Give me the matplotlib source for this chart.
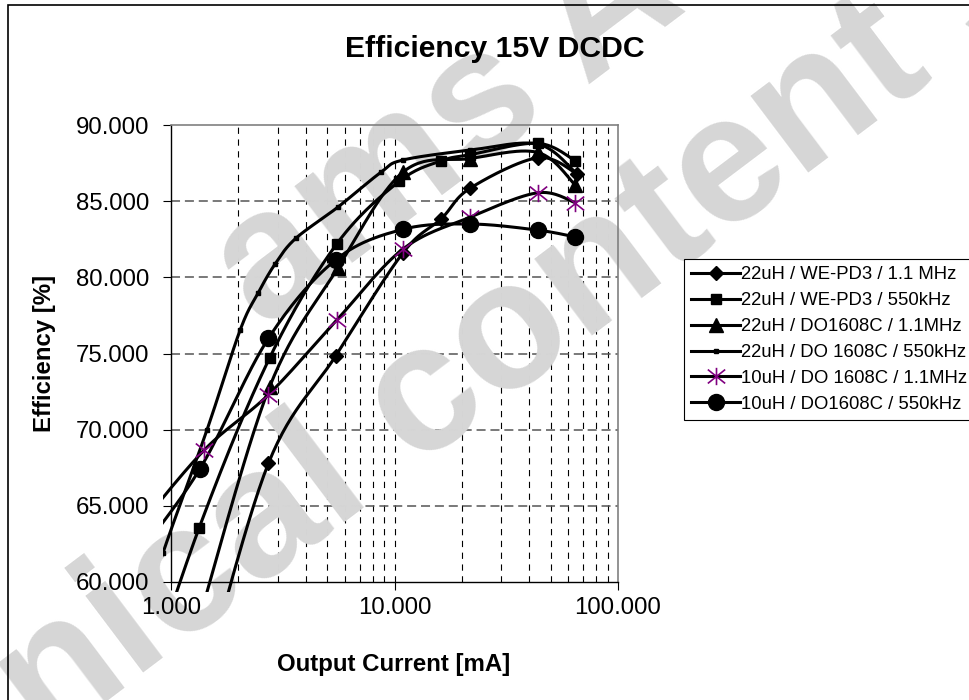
import numpy as np
import matplotlib
matplotlib.use("Agg")
import matplotlib.pyplot as plt
from matplotlib.path import Path
from matplotlib.patches import Rectangle
from matplotlib.lines import Line2D

plt.rcParams['font.family'] = ['Liberation Sans', 'DejaVu Sans']
plt.rcParams['lines.scale_dashes'] = False

# ---- data (output current mA, efficiency %) ----
labels = ["22uH / WE-PD3 / 1.1 MHz",
          "22uH / WE-PD3 / 550kHz",
          "22uH / DO1608C / 1.1MHz",
          "22uH / DO 1608C / 550kHz",
          "10uH / DO 1608C / 1.1MHz",
          "10uH / DO1608C / 550kHz"]

x_we_1m1 = [1.375, 2.73, 5.46, 10.9, 16.2, 21.8, 43.7, 65.5]
y_we_1m1 = [53.0, 67.8, 74.85, 81.6, 83.85, 85.85, 87.85, 86.8]

x_we_550 = [0.69, 1.336, 2.76, 5.52, 10.5, 16.2, 21.8, 43.7, 64.5]
y_we_550 = [51.0, 63.55, 74.7, 82.2, 86.3, 87.65, 88.05, 88.8, 87.65]

x_do_1m1 = [1.375, 2.76, 5.57, 10.9, 21.8, 43.7, 64.5]
y_do_1m1 = [58.2, 72.8, 80.6, 86.9, 87.8, 88.2, 86.05]

# tiny markers, so points were read along the curve
x_do_550 = [0.69, 0.92, 1.45, 2.04, 2.46, 2.93, 3.61, 5.57, 8.7, 10.9, 21.8, 43.7, 64.5]
y_do_550 = [56.0, 61.9, 70.0, 76.55, 79.0, 80.9, 82.55, 84.6, 86.9, 87.7, 88.35, 88.75, 86.9]

x_10u_1m1 = [0.69, 1.41, 2.73, 5.52, 10.9, 21.8, 43.7, 64.5]
y_10u_1m1 = [63.3, 68.67, 72.3, 77.2, 81.85, 83.95, 85.55, 84.9]

x_10u_550 = [0.69, 1.35, 2.73, 5.46, 10.9, 21.8, 43.7, 64.5]
y_10u_550 = [61.5, 67.45, 76.0, 81.15, 83.15, 83.5, 83.1, 82.65]

xs = [x_we_1m1, x_we_550, x_do_1m1, x_do_550, x_10u_1m1, x_10u_550]
ys = [y_we_1m1, y_we_550, y_do_1m1, y_do_550, y_10u_1m1, y_10u_550]

x_ticks = [1, 10, 100]
x_ticklabels = ["1.000", "10.000", "100.000"]
y_ticks = [60, 65, 70, 75, 80, 85, 90]

# asterisk marker like the spreadsheet one
star = Path([(0, -1), (0, 1), (-1, -0.8), (1, 0.8), (-1, 0.8), (1, -0.8)],
            [Path.MOVETO, Path.LINETO] * 3)

styles = [dict(marker='D', ms=7.5, mfc='k', mec='k'),
          dict(marker='s', ms=7, mfc='k', mec='k'),
          dict(marker='^', ms=10, mfc='k', mec='k'),
          dict(marker='s', ms=2.2, mfc='k', mec='k'),
          dict(marker=star, ms=12.5, mfc='none', mec='#800080', mew=1.2),
          dict(marker='o', ms=11.5, mfc='k', mec='k')]


def smooth(x, y, sx=222.5, sy=15.24, n=30):
    # bezier smoothing with catmull-rom control points, done in screen-like units
    pts = np.column_stack([np.log10(x) * sx, np.asarray(y) * sy])
    p = np.vstack([pts[0], pts, pts[-1]])
    t = np.linspace(0, 1, n)[1:, None]
    out = [pts[:1]]
    for i in range(1, len(p) - 2):
        p0, p1, p2, p3 = p[i - 1], p[i], p[i + 1], p[i + 2]
        c1 = p1 + (p2 - p0) / 6
        c2 = p2 - (p3 - p1) / 6
        out.append((1 - t) ** 3 * p1 + 3 * (1 - t) ** 2 * t * c1
                   + 3 * (1 - t) * t ** 2 * c2 + t ** 3 * p2)
    out = np.vstack(out)
    return 10 ** (out[:, 0] / sx), out[:, 1] / sy


fig = plt.figure(figsize=(9.69, 7.0), dpi=100)
ax = fig.add_axes([171 / 969, 1 - 582 / 700, 447 / 969, 457 / 700])
ax.set_xscale('log')
ax.set_xlim(1, 100)
ax.set_ylim(60, 90)

# grid drawn by hand so the watermark can sit between grid and curves
minor = [m * d for d in (1, 10) for m in range(2, 10)] + [10]
ax.vlines(minor, 60, 90, colors='k', lw=0.8, linestyles=[(0, (4.5, 4))], zorder=0.5)
ax.hlines(y_ticks[1:-1], 1, 100, colors='#555555', lw=1.1, linestyles=[(0, (6.5, 3.5))], zorder=0.5)

clip = Rectangle((-8 / 447, -10 / 457), 1 + 8 / 447, 1 + 10 / 457, transform=ax.transAxes)
for x, y, st in zip(xs, ys, styles):
    cx, cy = smooth(x, y)
    ln, = ax.plot(cx, cy, color='k', lw=2.2, zorder=3, solid_capstyle='round')
    mk, = ax.plot(x, y, ls='none', zorder=4, **st)
    ln.set_clip_path(clip)
    mk.set_clip_path(clip)

ax.set_xticks(x_ticks)
ax.set_xticklabels(x_ticklabels)
ax.xaxis.set_minor_locator(matplotlib.ticker.NullLocator())
ax.set_yticks(y_ticks)
ax.yaxis.set_major_formatter(matplotlib.ticker.FormatStrFormatter('%.3f'))
ax.tick_params(axis='both', direction='out', length=5.8, width=0.8, labelsize=17.3)
ax.tick_params(axis='x', pad=5)
ax.tick_params(axis='y', pad=10)
for s in ('left', 'bottom'):
    ax.spines[s].set_color('k')
    ax.spines[s].set_linewidth(1.0)
for s in ('top', 'right'):
    ax.spines[s].set_color('#808080')
    ax.spines[s].set_linewidth(1.2)

fig.text(495 / 969, 1 - 57 / 700, "Efficiency 15V DCDC", ha='center', va='baseline',
         fontsize=21.7, fontweight='bold')
fig.text(394 / 969, 1 - 664 / 700, "Output Current [mA]", ha='center', va='center',
         fontsize=17.3, fontweight='bold')
fig.text(45 / 969, 1 - 353 / 700, "Efficiency [%]", ha='center', va='center',
         rotation=90, fontsize=17.3, fontweight='bold')

# watermark
wm = dict(transform=fig.transFigure, clip_on=False, zorder=1, color='#d6d6d6',
          fontsize=130, fontweight='bold', rotation=37, rotation_mode='anchor',
          ha='left', va='baseline')
ax.text(263 / 969, 1 - 330 / 700, "ams AG", **wm)
ax.text(-250 / 969, 1 - 970 / 700, "technical content still valid", **wm)

handles = [Line2D([], [], color='k', lw=2.2, **st) for st in styles]
leg = ax.legend(handles, labels, loc='upper left', bbox_to_anchor=(684 / 969, 1 - 259 / 700),
                bbox_transform=fig.transFigure, borderaxespad=0, fontsize=13.3,
                handlelength=2.65, handletextpad=0.05, borderpad=0.4, labelspacing=0.48,
                fancybox=False, framealpha=1, edgecolor='k')
leg.get_frame().set_linewidth(0.8)
leg.set_zorder(5)

fig.add_artist(Rectangle((7.5 / 969, -0.1), 1.2, 1.1 - 5.5 / 700, transform=fig.transFigure,
                         fill=False, edgecolor='k', lw=1.2))

fig.savefig("out.png", dpi=100)
